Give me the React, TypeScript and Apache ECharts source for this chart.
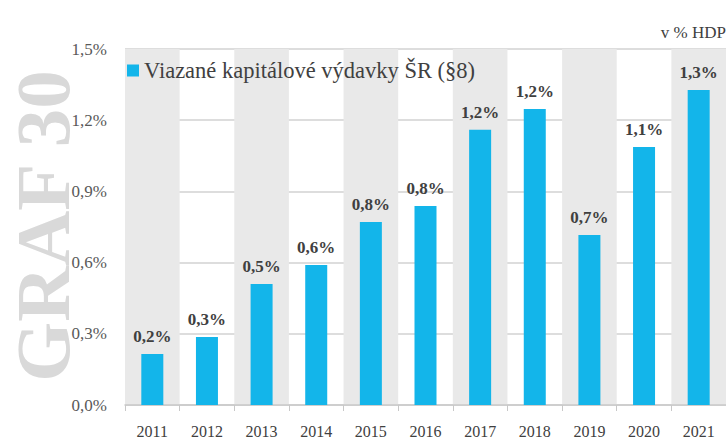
import React, { useEffect, useRef } from "react";
import * as echarts from "echarts";

const years = ["2011", "2012", "2013", "2014", "2015", "2016", "2017", "2018", "2019", "2020", "2021"];
const values = [0.215, 0.287, 0.51, 0.59, 0.771, 0.839, 1.16, 1.247, 0.716, 1.087, 1.327];
const seriesName = "Viazané kapitálové výdavky ŠR (§8)";
const unitLabel = "v % HDP";
const watermark = "GRAF 30";

const FONT = "'Liberation Serif', 'DejaVu Serif', serif";
const fmt = (v: number, d: number) => v.toFixed(d).replace(".", ",") + "%";

export default function App() {
  const ref = useRef<HTMLDivElement>(null);
  useEffect(() => {
    const chart = echarts.init(ref.current!, null, { renderer: "svg" });
    chart.setOption({
      animation: false,
      textStyle: { fontFamily: FONT },
      grid: { left: 125, top: 49, width: 608, height: 356, containLabel: false },
      legend: {
        left: 122,
        top: 54,
        itemWidth: 12,
        itemHeight: 12,
        itemGap: 6,
        icon: "rect",
        textStyle: { fontFamily: FONT, fontSize: 22.5, color: "#404040", padding: [2, 0, 0, 0] },
        data: [seriesName],
      },
      graphic: [
        {
          type: "text",
          x: 43,
          y: 226,
          rotation: Math.PI / 2,
          z: -10,
          style: {
            text: watermark,
            font: "bold 77px " + FONT,
            fill: "#d9d9d9",
            align: "center",
            verticalAlign: "middle",
          },
        },
        {
          type: "text",
          right: 0,
          top: 24,
          style: { text: unitLabel, font: "17px " + FONT, fill: "#404040" },
        },
      ],
      xAxis: {
        type: "category",
        data: years,
        axisLine: { show: true, lineStyle: { color: "#c8c8c8", width: 1.5 } },
        axisTick: { show: true, length: 6, lineStyle: { color: "#c8c8c8" } },
        axisLabel: { color: "#404040", fontSize: 16, margin: 18, fontFamily: FONT },
        splitArea: { show: true, areaStyle: { color: ["#e9e9e9", "rgba(0,0,0,0)"] } },
        splitLine: { show: false },
      },
      yAxis: {
        type: "value",
        min: 0,
        max: 1.5,
        interval: 0.3,
        axisLine: { show: false },
        axisTick: { show: false },
        axisLabel: {
          color: "#595959",
          fontSize: 17,
          margin: 18,
          fontFamily: FONT,
          formatter: (v: number) => fmt(v, 1),
        },
        splitLine: { show: true, lineStyle: { color: "#d2d2d2", width: 1.5 } },
      },
      series: [
        {
          name: seriesName,
          type: "bar",
          data: values,
          barWidth: 22,
          itemStyle: { color: "#13b5ea" },
          label: {
            show: true,
            position: "top",
            distance: 9,
            color: "#404040",
            fontSize: 17,
            fontWeight: "bold",
            fontFamily: FONT,
            formatter: (p: any) => fmt(p.value, 1),
          },
        },
      ],
    });
    return () => chart.dispose();
  }, []);
  return <div ref={ref} style={{ width: 726, height: 441, position: "absolute", left: 0, top: 0 }} />;
}
